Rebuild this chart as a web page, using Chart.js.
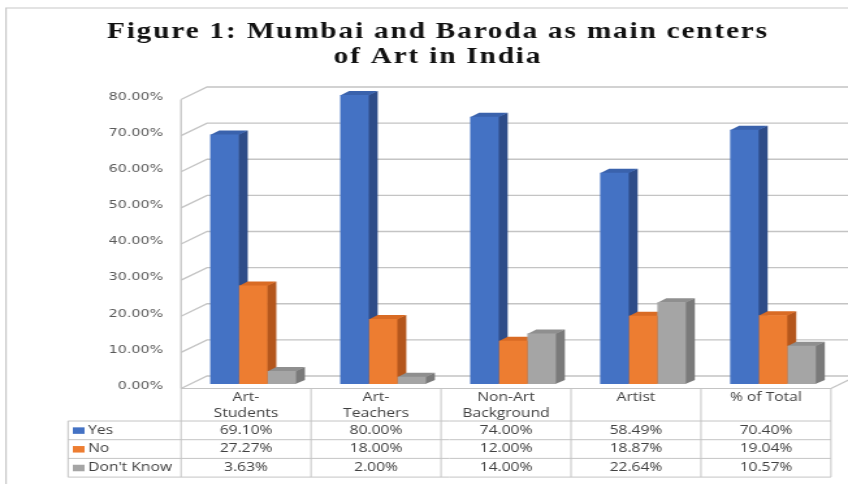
<!DOCTYPE html>
<html>
<head>
<meta charset="utf-8">
<script src="https://cdn.jsdelivr.net/npm/chart.js@4.4.1/dist/chart.umd.min.js"></script>
<style>
  html, body { margin: 0; padding: 0; background: #fff; overflow: hidden; }
  /* a figura original está esticada na horizontal */
  #caixa { position: absolute; left: 0; top: 0; width: 652px; height: 484px; transform: scaleX(1.3006); transform-origin: 0 0; }
</style>
</head>
<body>
<div id="caixa"><canvas id="meuGrafico"></canvas></div>
<script>
const titulo = ['Figure 1: Mumbai and Baroda as main centers', 'of Art in India'];
const categorias = [['Art-', 'Students'], ['Art-', 'Teachers'], ['Non-Art', 'Background'], 'Artist', '% of Total'];
const series = ['Yes', 'No', "Don't Know"];
const sim = [69.10, 80.00, 74.00, 58.49, 70.40];
const nao = [27.27, 18.00, 12.00, 18.87, 19.04];
const naoSei = [3.63, 2.00, 14.00, 22.64, 10.57];
const marcasY = [0, 10, 20, 30, 40, 50, 60, 70, 80];

// deslocamentos do efeito 3D
const barra = { dx: 6.9, dy: -4 };
const parede = { frenteDx: -5.4, frenteDy: 4.5, fundoDx: 14.6, fundoDy: -8 };
const corTexto = '#404040';
const corLinha = '#C4C4C4';

function poligono(ctx, pts) {
  ctx.beginPath();
  ctx.moveTo(pts[0][0], pts[0][1]);
  for (let i = 1; i < pts.length; i++) ctx.lineTo(pts[i][0], pts[i][1]);
  ctx.closePath();
  ctx.fill();
}

const fundo3d = {
  id: 'fundo3d',
  beforeDatasetsDraw(chart) {
    const { ctx, chartArea } = chart;
    const y = chart.scales.y;
    const xf = chartArea.left + parede.frenteDx;
    const xb = chartArea.left + parede.fundoDx;
    ctx.save();

    // moldura
    ctx.strokeStyle = '#C8C8C8';
    ctx.lineWidth = 1.2;
    ctx.beginPath();
    ctx.moveTo(4.6, chart.height);
    ctx.lineTo(4.6, 8);
    ctx.lineTo(chart.width, 8);
    ctx.stroke();

    // linhas de grade na parede esquerda e no fundo
    ctx.strokeStyle = corLinha;
    ctx.lineWidth = 1.3;
    marcasY.forEach(v => {
      const py = y.getPixelForValue(v);
      ctx.beginPath();
      ctx.moveTo(xf, py + parede.frenteDy);
      ctx.lineTo(xb, py + parede.fundoDy);
      ctx.lineTo(chart.width, py + parede.fundoDy);
      ctx.stroke();
    });
    const yTopo = y.getPixelForValue(marcasY[marcasY.length - 1]);
    const yZero = y.getPixelForValue(0);
    ctx.beginPath();
    ctx.moveTo(xf, yTopo + parede.frenteDy);
    ctx.lineTo(xf, yZero + parede.frenteDy);
    ctx.stroke();
    // canto direito do piso
    const xr = chartArea.right + parede.frenteDx;
    ctx.beginPath();
    ctx.moveTo(xr, yZero + parede.frenteDy);
    ctx.lineTo(xr + parede.fundoDx - parede.frenteDx, yZero + parede.fundoDy);
    ctx.stroke();

    // laterais e topos das barras
    for (let i = 0; i < chart.data.labels.length; i++) {
      chart.data.datasets.forEach((ds, d) => {
        const b = chart.getDatasetMeta(d).data[i];
        const x0 = b.x - b.width / 2;
        const x1 = b.x + b.width / 2;
        ctx.fillStyle = ds.corLado;
        poligono(ctx, [[x1 - 0.5, b.y], [x1 + barra.dx, b.y + barra.dy], [x1 + barra.dx, b.base + barra.dy], [x1 - 0.5, b.base]]);
        ctx.fillStyle = ds.corTopo;
        poligono(ctx, [[x0, b.y + 0.5], [x1, b.y + 0.5], [x1 + barra.dx, b.y + barra.dy], [x0 + barra.dx, b.y + barra.dy]]);
      });
    }
    ctx.restore();
  },
  afterDraw(chart) {
    const { ctx, chartArea } = chart;
    const x = chart.scales.x;
    const y = chart.scales.y;
    ctx.save();

    // titulo
    ctx.font = 'bold 22.5px "Liberation Serif"';
    ctx.letterSpacing = '1.4px';
    ctx.fillStyle = '#111';
    ctx.textAlign = 'center';
    ctx.textBaseline = 'alphabetic';
    ctx.fillText(titulo[0], 336.7, 37.5);
    ctx.fillText(titulo[1], 336.7, 62.5);
    ctx.letterSpacing = '0px';

    // tabela de dados
    const n = chart.data.labels.length;
    const larg = chartArea.width / n;
    const esq = chartArea.left + parede.frenteDx;
    const dir = chartArea.right + parede.frenteDx;
    const topo = y.getPixelForValue(0) + parede.frenteDy;
    const fimCab = 421;
    const linhaH = 18.7;
    const fim = fimCab + linhaH * series.length;
    const legEsq = 52.3;

    ctx.strokeStyle = corLinha;
    ctx.lineWidth = 1;
    ctx.beginPath();
    ctx.moveTo(esq, topo); ctx.lineTo(dir, topo);
    for (let r = 0; r <= series.length; r++) {
      ctx.moveTo(legEsq, fimCab + r * linhaH);
      ctx.lineTo(dir, fimCab + r * linhaH);
    }
    for (let i = 0; i <= n; i++) {
      ctx.moveTo(esq + i * larg, topo);
      ctx.lineTo(esq + i * larg, fim);
    }
    ctx.moveTo(legEsq, fimCab); ctx.lineTo(legEsq, fim);
    ctx.stroke();

    ctx.font = '12px "Open Sans"';
    ctx.fillStyle = corTexto;
    ctx.textBaseline = 'middle';
    ctx.textAlign = 'center';
    chart.data.labels.forEach((lab, i) => {
      const cx = x.getPixelForValue(i) + parede.frenteDx;
      const linhas = Array.isArray(lab) ? lab : [lab];
      linhas.forEach((t, k) => ctx.fillText(t, cx, 397.5 + k * 16));
    });

    chart.data.datasets.forEach((ds, d) => {
      const cy = fimCab + linhaH * (d + 0.5);
      ctx.fillStyle = ds.backgroundColor;
      ctx.fillRect(56, cy - 3, 9, 6.5);
      ctx.fillStyle = corTexto;
      ctx.textAlign = 'left';
      ctx.fillText(ds.label, 67.7, cy);
      ctx.textAlign = 'center';
      ds.data.forEach((v, i) => {
        ctx.fillText(v.toFixed(2) + '%', x.getPixelForValue(i) + parede.frenteDx, cy);
      });
    });
    ctx.restore();
  }
};

const ctx = document.getElementById('meuGrafico');

new Chart(ctx, {
  type: 'bar',
  data: {
    labels: categorias,
    datasets: [
      { label: series[0], data: sim, backgroundColor: '#4472C4', corLado: '#2E4C88', corTopo: '#3A62AC' },
      { label: series[1], data: nao, backgroundColor: '#ED7D31', corLado: '#B4561C', corTopo: '#D96B24' },
      { label: series[2], data: naoSei, backgroundColor: '#A5A5A5', corLado: '#7A7A7A', corTopo: '#8F8F8F' }
    ]
  },
  options: {
    responsive: true,
    maintainAspectRatio: false,
    animation: false,
    datasets: { bar: { categoryPercentage: 0.66, barPercentage: 1.0 } },
    layout: { padding: { top: 95, bottom: 100, left: 10, right: 7.7 } },
    plugins: { legend: { display: false }, tooltip: { enabled: false } },
    scales: {
      x: { display: false },
      y: {
        min: 0,
        max: 80,
        afterBuildTicks: s => { s.ticks = marcasY.map(v => ({ value: v })); },
        afterFit: s => { s.width = 134.6; },
        grid: { display: false, drawTicks: false },
        border: { display: false },
        ticks: {
          padding: 19.2,
          labelOffset: 2,
          color: '#595959',
          font: { family: 'DejaVu Sans', size: 11 },
          callback: v => v.toFixed(2) + '%'
        }
      }
    }
  },
  plugins: [fundo3d]
});
</script>
</body>
</html>
